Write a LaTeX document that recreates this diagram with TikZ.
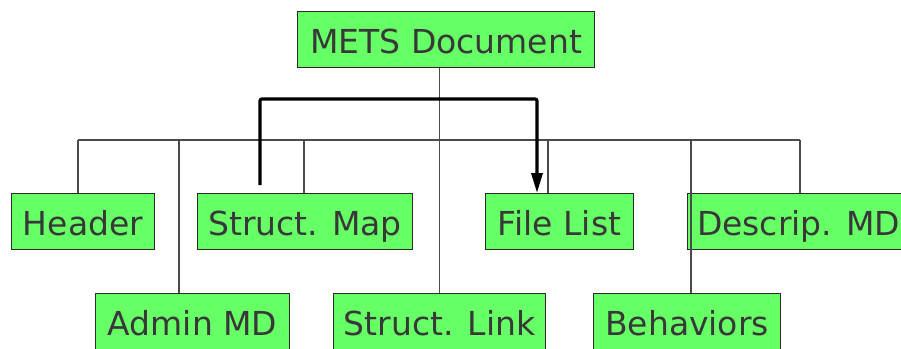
\documentclass[tikz,border=0pt]{standalone}
\usepackage{fontspec}
\setmainfont{DejaVu Sans}
\usetikzlibrary{arrows.meta}
\definecolor{boxgreen}{HTML}{66FF66}
\definecolor{boxline}{HTML}{2A2A2A}
\definecolor{labelgray}{HTML}{383838}
\definecolor{wire}{HTML}{4A4A4A}
\tikzset{
  part/.style={draw=boxline, line width=1.1pt, fill=boxgreen, text=labelgray,
    anchor=north west, inner xsep=0pt, inner ysep=0pt,
    text height=42pt, text depth=14pt,
    font=\fontsize{33}{40}\selectfont},
  wireline/.style={draw=wire, line width=1.1pt},
  flow/.style={draw=black, line width=3.2pt, rounded corners=2pt,
    -{Triangle[length=20pt,width=11pt]}}
}
\begin{document}
\begin{tikzpicture}[x=1pt,y=-1pt]
\useasboundingbox[fill=white] (0,0) rectangle (901,348);

% top-level element
\node[part, minimum width=297pt] (mets) at (297,11) {METS Document};

% first row of sections
\node[part, minimum width=143pt] (hdr)  at (11,193)  {Header};
\node[part, minimum width=215pt] (smap) at (197,193) {Struct. Map};
\node[part, minimum width=148pt] (flist) at (485,193) {File List};
\node[part, minimum width=222pt] (dmd)  at (687,193) {Descrip. MD};

% second row of sections
\node[part, minimum width=194pt] (amd)  at (95,293)  {Admin MD};
\node[part, minimum width=212pt] (slink) at (333,293) {Struct. Link};
\node[part, minimum width=187pt] (beh)  at (593,293) {Behaviors};

% junctions on the distribution bus
\coordinate (jh) at (78,140);
\coordinate (ja) at (179,140);
\coordinate (js) at (304,140);
\coordinate (jf) at (548,140);
\coordinate (jb) at (691,140);
\coordinate (jd) at (800,140);

% bus and drops
\draw[wireline] (jh) -- (jd);
\draw[wireline] (mets.south -| slink.north) -- (slink.north);
\draw[wireline] (jh) -- (jh |- hdr.north);
\draw[wireline] (ja) -- (ja |- amd.north);
\draw[wireline] (js) -- (js |- smap.north);
\draw[wireline] (jf) -- (jf |- flist.north);
\draw[wireline] (jb) -- (jb |- beh.north);
\draw[wireline] (jd) -- (jd |- dmd.north);

% link from structural map to file list
\coordinate (fa) at (260,185);
\coordinate (fb) at (537,99);
\draw[flow] (fa) -- (fa |- fb) -- (fb) -- (fb |- flist.north);
\end{tikzpicture}
\end{document}
